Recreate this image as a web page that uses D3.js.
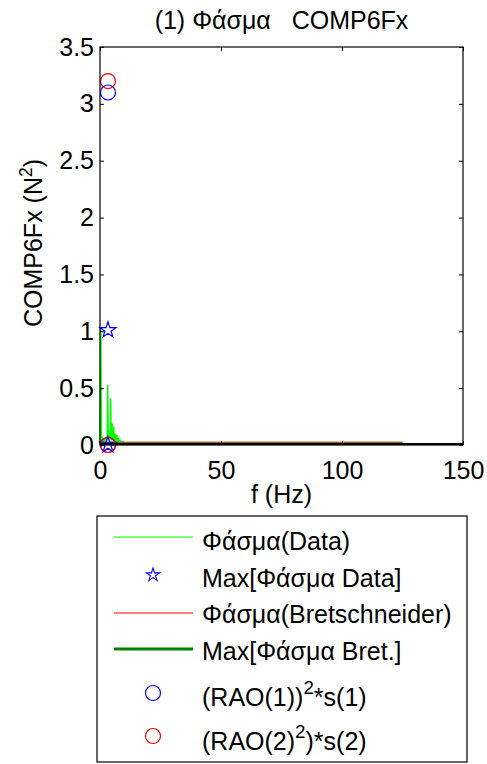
<!DOCTYPE html>
<html><head><meta charset="utf-8">
<script src="https://cdn.jsdelivr.net/npm/d3@7"></script>
<style>body{margin:0;background:#fff}svg text{font-family:"Liberation Sans",Arial,sans-serif;fill:#000}</style>
</head><body><svg id="c" width="487" height="764"></svg>
<script>
// Data
const dataFreq = [0, 0.3, 0.6, 1.0, 1.5, 2.0, 2.5, 3.0, 3.2, 3.4, 3.8, 4.2, 4.4, 4.6, 5.0, 5.3, 5.6, 5.8, 6.2, 6.5, 6.9, 7.2, 7.6, 8.0, 8.4, 8.9, 9.5, 10, 125];
const dataSpec = [0, 1.03, 0.04, 0.06, 0.03, 0.05, 0.04, 0.08, 0.53, 0.05, 0.12, 0.06, 0.41, 0.04, 0.19, 0.05, 0.16, 0.04, 0.10, 0.03, 0.09, 0.03, 0.06, 0.02, 0.04, 0.02, 0.03, 0.02, 0.02];
const bretFreq = [0, 125];
const bretSpec = [0.02, 0.02];
const maxDataF = [3.3, 3.3];
const maxDataS = [1.01, 0.0];
const rao1F = [3.3, 3.3];
const rao1S = [3.1, 0.0];
const rao2F = [3.3, 3.3];
const rao2S = [3.2, 0.0];
const xTicks = [0, 50, 100, 150];
const yTicks = [0, 0.5, 1, 1.5, 2, 2.5, 3, 3.5];
const legendLabels = ["Φάσμα(Data)", "Max[Φάσμα Data]", "Φάσμα(Bretschneider)", "Max[Φάσμα Bret.]", "(RAO(1))|2|*s(1)", "(RAO(2)|2|)*s(2)"];

const svg = d3.select("#c");
const L = 100, R = 463, T = 47, B = 445;
const x = d3.scaleLinear().domain([0, 150]).range([L, R]);
const y = d3.scaleLinear().domain([0, 3.5]).range([B, T]);
const FS = 25;

// plot lines
const line = d3.line().x(d => x(d[0])).y(d => y(d[1]));
const g = svg.append("g");
g.append("path").datum(bretFreq.map((f, i) => [f, bretSpec[i]]))
  .attr("d", line).attr("fill", "none").attr("stroke", "#008000").attr("stroke-width", 2);
g.append("path").datum(dataFreq.map((f, i) => [f, dataSpec[i]]))
  .attr("d", line).attr("fill", "none").attr("stroke", "#00ff00").attr("stroke-width", 1.5);
g.append("path").datum(bretFreq.map((f, i) => [f, bretSpec[i]]))
  .attr("d", line).attr("fill", "none").attr("stroke", "#ff0000").attr("stroke-width", 2).attr("stroke-opacity", 0.6);

const star = d3.symbol().type(d3.symbolStar).size(80);
const starL = d3.symbol().type(d3.symbolStar).size(55);
g.selectAll(".st").data(maxDataF.map((f, i) => [f, maxDataS[i]])).join("path")
  .attr("transform", d => `translate(${x(d[0])},${y(d[1])})`).attr("d", star)
  .attr("fill", "none").attr("stroke", "#0000ff").attr("stroke-width", 1.2);
g.selectAll(".c1").data(rao1F.map((f, i) => [f, rao1S[i]])).join("circle")
  .attr("cx", d => x(d[0])).attr("cy", d => y(d[1])).attr("r", 7.5)
  .attr("fill", "none").attr("stroke", "#0000ff").attr("stroke-width", 1.2);
g.selectAll(".c2").data(rao2F.map((f, i) => [f, rao2S[i]])).join("circle")
  .attr("cx", d => x(d[0])).attr("cy", d => y(d[1])).attr("r", 7.5)
  .attr("fill", "none").attr("stroke", "#ff0000").attr("stroke-width", 1.2);

// axes box
svg.append("rect").attr("x", L).attr("y", T).attr("width", R - L).attr("height", B - T)
  .attr("fill", "none").attr("stroke", "#000").attr("stroke-width", 1.2);
svg.append("line").attr("x1", L).attr("x2", R).attr("y1", B - 1).attr("y2", B - 1).attr("stroke", "#000").attr("stroke-width", 2);

const tk = 4;
const ax = svg.append("g");
ax.append("g").attr("transform", `translate(0,${B})`)
  .call(d3.axisBottom(x).tickValues(xTicks).tickSize(-tk).tickPadding(16).tickFormat(d3.format("d")))
  .call(s => s.select(".domain").remove())
  .call(s => s.selectAll("text").attr("font-size", FS).attr("font-family", "Liberation Sans, Arial"));
ax.append("g").attr("transform", `translate(0,${T})`)
  .call(d3.axisTop(x).tickValues(xTicks).tickSize(-tk).tickFormat(""))
  .call(s => s.select(".domain").remove());
ax.append("g").attr("transform", `translate(${L},0)`)
  .call(d3.axisLeft(y).tickValues(yTicks).tickSize(-tk).tickPadding(6).tickFormat(d3.format("")))
  .call(s => s.select(".domain").remove())
  .call(s => s.selectAll("text").attr("font-size", FS).attr("font-family", "Liberation Sans, Arial"));
ax.append("g").attr("transform", `translate(${R},0)`)
  .call(d3.axisRight(y).tickValues(yTicks).tickSize(-tk).tickFormat(""))
  .call(s => s.select(".domain").remove());

// title and labels
svg.append("text").attr("x", (L + R) / 2).attr("y", 29).attr("text-anchor", "middle")
  .attr("font-size", FS).style("white-space", "pre").text("(1) Φάσμα   COMP6Fx");
svg.append("text").attr("x", (L + R) / 2).attr("y", 503).attr("text-anchor", "middle")
  .attr("font-size", FS).text("f (Hz)");
const yl = svg.append("text").attr("transform", `translate(42,${(T + B) / 2 - 3}) rotate(-90)`)
  .attr("text-anchor", "middle").attr("font-size", FS);
yl.append("tspan").text("COMP6Fx (N");
yl.append("tspan").attr("font-size", FS * 0.7).attr("dy", -10).text("2");
yl.append("tspan").attr("dy", 10).text(")");

// legend
const LB = {x: 97, y: 516, w: 370, h: 246};
svg.append("rect").attr("x", LB.x).attr("y", LB.y).attr("width", LB.w).attr("height", LB.h)
  .attr("fill", "#fff").attr("stroke", "#000").attr("stroke-width", 1.2);
const rowY = [550, 587, 623, 660, 706, 750];
const symY = [537, 575, 613, 649, 693, 736];
const lx1 = 114, lx2 = 193, tx = 202, mx = 153;
const lg = svg.append("g");
lg.append("line").attr("x1", lx1).attr("x2", lx2).attr("y1", symY[0]).attr("y2", symY[0]).attr("stroke", "#00ff00").attr("stroke-width", 1);
lg.append("path").attr("transform", `translate(${mx},${symY[1]})`).attr("d", starL).attr("fill", "none").attr("stroke", "#0000ff").attr("stroke-width", 1.1);
lg.append("line").attr("x1", lx1).attr("x2", lx2).attr("y1", symY[2]).attr("y2", symY[2]).attr("stroke", "#ff0000").attr("stroke-width", 1);
lg.append("line").attr("x1", lx1).attr("x2", lx2).attr("y1", symY[3]).attr("y2", symY[3]).attr("stroke", "#008000").attr("stroke-width", 3);
lg.append("circle").attr("cx", mx).attr("cy", symY[4]).attr("r", 7.5).attr("fill", "none").attr("stroke", "#0000ff").attr("stroke-width", 1.2);
lg.append("circle").attr("cx", mx).attr("cy", symY[5]).attr("r", 7.5).attr("fill", "none").attr("stroke", "#ff0000").attr("stroke-width", 1.2);
legendLabels.forEach((lab, i) => {
  const parts = lab.split("|");
  const t = lg.append("text").attr("x", tx).attr("y", rowY[i]).attr("font-size", FS);
  if (parts.length === 1) t.text(lab);
  else {
    t.append("tspan").text(parts[0]);
    t.append("tspan").attr("dy", -12).attr("font-size", FS * 0.75).text(parts[1]);
    t.append("tspan").attr("dy", 12).text(parts[2]);
  }
});
</script></body></html>
